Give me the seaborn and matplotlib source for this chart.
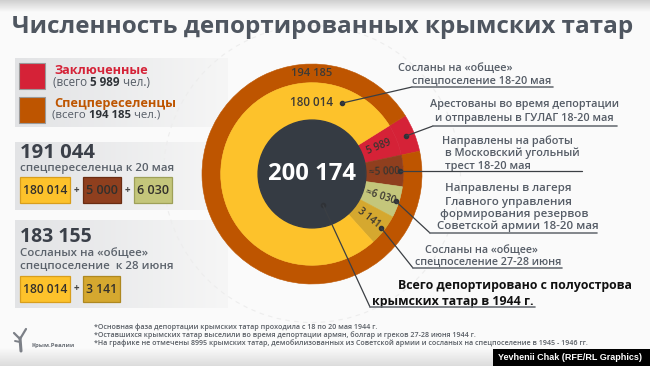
import numpy as np
import matplotlib
matplotlib.use("Agg")
import matplotlib.pyplot as plt
import seaborn as sns
from matplotlib.patches import Rectangle, Circle
from matplotlib.colors import to_rgb
from matplotlib import font_manager as fm

# ---------------- data ----------------
title_text = "Численность депортированных крымских татар"
total_label = "200 174"
ring_categories = ["Заключенные", "Спецпереселенцы"]
ring_values = [5989, 194185]
ring_label = "194 185"
segment_categories = ["ГУЛАГ", "Московский угольный трест", "Лагеря ГУФРСА",
                      "Спецпоселение 27-28 июня", "Спецпоселение 18-20 мая"]
segment_values = [5989, 5000, 6030, 3141, 180014]
segment_labels = ["5 989", "≈5 000", "≈6 030", "3 141", "180 014"]
legend_names = ["Заключенные", "Спецпереселенцы"]
legend_totals = ["5 989", "194 185"]
panel2_total = "191 044"
panel2_caption = ["спецпереселенца к 20 мая"]
panel2_terms = ["180 014", "5 000", "6 030"]
panel3_total = "183 155"
panel3_caption = ["Сосланых на «общее»", "спецпоселение  к 28 июня"]
panel3_terms = ["180 014", "3 141"]
callout_texts = [
    ["Сосланы на «общее»", "спецпоселение 18-20 мая"],
    ["Арестованы во время депортации", "и отправлены в ГУЛАГ 18-20 мая"],
    ["Направлены на работы", "в Московский угольный", "трест 18-20 мая"],
    ["Направлены в лагеря", "Главного управления", "формирования резервов",
     "Советской армии 18-20 мая"],
    ["Сосланы на «общее»", "спецпоселение 27-28 июня"],
    ["Всего депортировано с полуострова", "крымских татар в 1944 г."],
]
footnotes = [
    "*Основная фаза депортации крымских татар проходила с 18 по 20 мая 1944 г.",
    "*Оставшихся крымских татар выселили во время депортации армян, болгар и греков 27-28 июня 1944 г.",
    "*На графике не отмечены 8995 крымских татар, демобилизованных из Советской армии и сосланых на спецпоселение в 1945 - 1946 гг.",
]
logo_text = "Крым.Реалии"
credit_text = "Yevhenii Chak (RFE/RL Graphics)"

# ---------------- style ----------------
sns.set_style("white")
FONT = "Open Sans"
plt.rcParams["font.family"] = [FONT, "DejaVu Sans"]
_names = {f.name for f in fm.fontManager.ttflist}
NARROW = "Liberation Sans Narrow" if "Liberation Sans Narrow" in _names else FONT

RED, ORANGE = "#D52237", "#BE5500"
seg_colors = sns.color_palette([RED, "#8F3F1E", "#C4C67B", "#D5A82F", "#FDC22B"])
ring_colors = [RED, ORANGE]
DARK = "#353B43"
GRAY_TXT = "#555C66"

W, H = 650, 366
fig = plt.figure(figsize=(6.5, 3.66), dpi=100)
fig.patch.set_facecolor("#FAFAFA")
renderer = fig.canvas.get_renderer()

ax_bg = fig.add_axes([0, 0, 1, 1], zorder=0)
CX, CY, R = 312, 174, 110
HALF = 120
ax_d = fig.add_axes([(CX - HALF) / W, 1 - (CY + HALF) / H, 2 * HALF / W, 2 * HALF / H], zorder=1)
ax_o = fig.add_axes([0, 0, 1, 1], zorder=2)
ax_o.patch.set_alpha(0)
for a in (ax_bg, ax_o):
    a.set_xlim(0, W)
    a.set_ylim(H, 0)
    a.axis("off")


def grad(ax, x0, x1, y0, y1, c0, c1, vertical=False, z=1):
    t = np.linspace(0, 1, 256)
    a, b = np.array(to_rgb(c0)), np.array(to_rgb(c1))
    cols = a[None, :] * (1 - t[:, None]) + b[None, :] * t[:, None]
    img = cols[:, None, :] if vertical else cols[None, :, :]
    ax.imshow(img, extent=(x0, x1, y1, y0), aspect="auto", interpolation="bilinear", zorder=z)


def fit(t, width, cap=None):
    w = t.get_window_extent(renderer).width
    fs = t.get_fontsize() * width / w
    if cap is not None:
        fs = min(fs, cap)
    t.set_fontsize(fs)
    return fs


def width_of(t):
    return t.get_window_extent(renderer).width


# background decorations
grad(ax_bg, 0, W, 0, 12, "#CFCFCF", "#FAFAFA", vertical=True)
grad(ax_bg, 0, W, 348, H, "#FAFAFA", "#DCDCDC", vertical=True)
grad(ax_bg, 15, 228, 58, 127, "#E2E3E5", "#F6F6F6")
grad(ax_bg, 15, 228, 142, 210, "#E2E3E5", "#F6F6F6")
grad(ax_bg, 15, 228, 220, 308, "#E2E3E5", "#F6F6F6")
ax_bg.add_patch(Circle((CX, CY), R * 1.35, fill=False, ec="#EDEDED", lw=0.8, ls=(0, (4, 4)), zorder=2))
ax_bg.set_xlim(0, W)
ax_bg.set_ylim(H, 0)

# ---------------- donut ----------------
MIN_SHARE = 20 / 360  # small slices are enlarged for readability, as in the original


def display_shares(vals):
    s = np.asarray(vals, float) / np.sum(vals)
    small = s < MIN_SHARE
    d = np.where(small, MIN_SHARE, s)
    d[~small] *= (1 - d[small].sum()) / d[~small].sum()
    return d


START = 32
outer, _ = ax_d.pie(display_shares(ring_values), radius=1.0, colors=ring_colors,
                    startangle=START, counterclock=False,
                    wedgeprops=dict(width=0.17, linewidth=0.4))
inner, _ = ax_d.pie(display_shares(segment_values), radius=0.83, colors=seg_colors,
                    startangle=START, counterclock=False,
                    wedgeprops=dict(width=0.34, linewidth=0.4))
for w in list(outer) + list(inner):
    w.set_edgecolor(w.get_facecolor())
ax_d.add_patch(Circle((0, 0), 0.49, color=DARK, zorder=5))
ax_d.set_xlim(-HALF / R, HALF / R)
ax_d.set_ylim(-HALF / R, HALF / R)
ax_d.axis("off")

t = ax_d.text(0, 0, total_label, color="white", fontweight="bold", ha="center",
              va="center", fontsize=18, zorder=6)
fit(t, 88)


def to_px(r, ang):
    return CX + R * r * np.cos(np.radians(ang)), CY - R * r * np.sin(np.radians(ang))


mids = [(w.theta1 + w.theta2) / 2 for w in inner]
for i in range(4):
    x, y = to_px(0.655, mids[i])
    ax_o.text(x, y, segment_labels[i], rotation=mids[i], rotation_mode="anchor",
              ha="center", va="center", color="#3A3530", fontsize=7.2,
              fontweight="semibold", zorder=7)

tt = ax_o.text(CX, 74, ring_label, ha="center", va="center", color="#3D3A36",
               fontweight="semibold", fontsize=7.5)
fit(tt, 41)
tt = ax_o.text(333, 103, segment_labels[4], ha="right", va="center", color="#3D3A36",
               fontweight="semibold", fontsize=7.5)
fit(tt, 43)

# callouts: dot -> elbow -> underline end
dots = [to_px(0.70, 67), to_px(0.925, mids[0]), to_px(0.80, mids[1]),
        to_px(0.80, mids[2]), to_px(0.80, mids[3]), to_px(0.30, -70.5)]
elbows = [(412, 87), (433, 126), None, (430, 233), (413, 268), (370, 307)]
ends = [553, 617, 582, 597, 562, 535]
for i, (d, e, xe) in enumerate(zip(dots, elbows, ends)):
    ax_o.plot(*d, "o", ms=3, color="#2F3237", zorder=8)
    if e is None:
        ax_o.plot([d[0], xe], [d[1], d[1]], color="#3B3F44", lw=0.9, zorder=8)
    else:
        ax_o.plot([d[0], e[0]], [d[1], e[1]], color="#3B3F44", lw=0.9, zorder=8)
        ax_o.plot([e[0], xe], [e[1], e[1]], color="#6D7278", lw=1.2, zorder=8)

line_pos = [
    [(398, 68), (412, 81)],
    [(430, 105), (435, 118)],
    [(442, 141), (445, 153), (445, 166)],
    [(445, 189), (445, 202), (440, 214), (437, 226)],
    [(425, 250), (415, 262)],
    [(398, 286), (372, 301)],
]
fit_line = [(1, 140), (0, 190), (1, 135), (3, 160), (1, 147), (0, 235)]
for b, lines in enumerate(callout_texts):
    last = b == 5
    color = "#111111" if last else GRAY_TXT
    weight = "bold" if last else "semibold"
    texts = [ax_o.text(x, y, s, ha="left", va="center", color=color,
                       fontweight=weight, fontsize=8.5)
             for s, (x, y) in zip(lines, line_pos[b])]
    li, wid = fit_line[b]
    fs = fit(texts[li], wid)
    for tx in texts:
        tx.set_fontsize(fs)

# ---------------- title ----------------
tt = ax_o.text(12, 33, title_text, ha="left", va="baseline", color="#4F5660",
               fontweight="bold", fontsize=16)
fit(tt, 624)

# ---------------- left panels ----------------
for (y0, c) in [(63, ring_colors[0]), (97, ring_colors[1])]:
    ax_o.add_patch(Rectangle((19, y0), 26, 26, fc=c, ec="#9A9A9A", lw=0.8))

tt = ax_o.text(54, 70, legend_names[0], color=RED, fontweight="bold", va="center", fontsize=9)
fit(tt, 94)
tt = ax_o.text(54, 103, legend_names[1], color=ORANGE, fontweight="bold", va="center", fontsize=9)
fit(tt, 122)


def rich(x, y, parts, target):
    # measure at a base size, then scale to the target width
    base = 8.0
    probe = [ax_o.text(0, 0, s, fontsize=base, fontweight=wgt) for s, wgt, _ in parts]
    total = sum(width_of(p) for p in probe)
    for p in probe:
        p.remove()
    fs = base * target / total
    for s, wgt, col in parts:
        tx = ax_o.text(x, y, s, ha="left", va="center", fontsize=fs, fontweight=wgt, color=col)
        x += width_of(tx)


rich(53, 83, [("(всего ", "normal", GRAY_TXT), (legend_totals[0], "bold", "#2E3237"),
              (" чел.)", "normal", GRAY_TXT)], 97)
rich(52, 115, [("(всего ", "normal", GRAY_TXT), (legend_totals[1], "bold", "#2E3237"),
               (" чел.)", "normal", GRAY_TXT)], 108)

NUMC = "#3B4049"
tt = ax_o.text(20, 153, panel2_total, color=NUMC, fontweight="bold", va="center", fontsize=14)
fit(tt, 75)
tt = ax_o.text(20, 169, panel2_caption[0], color="#5B626B", fontweight="semibold", va="center", fontsize=8)
fit(tt, 153)
tt = ax_o.text(20, 237, panel3_total, color=NUMC, fontweight="bold", va="center", fontsize=14)
fit(tt, 72)
tt1 = ax_o.text(20, 253, panel3_caption[0], color="#5B626B", fontweight="semibold", va="center", fontsize=8)
tt2 = ax_o.text(20, 266, panel3_caption[1], color="#5B626B", fontweight="semibold", va="center", fontsize=8)
fs = fit(tt2, 152)
tt1.set_fontsize(fs)

box_style = {
    "180 014": ("#FDC22B", "#D89E1C"),
    "5 000": ("#8F3F1E", "#6A2C12"),
    "6 030": ("#C4C67B", "#9EA058"),
    "3 141": ("#D5A82F", "#AE8820"),
}


def box_row(y0, terms, xs):
    for s, (x0, x1) in zip(terms, xs):
        fc, ec = box_style[s]
        ax_o.add_patch(Rectangle((x0, y0), x1 - x0, 26, fc=fc, ec=ec, lw=0.9))
        tx = ax_o.text((x0 + x1) / 2, y0 + 13.5, s, ha="center", va="center",
                       color="#33302C", fontweight="semibold", fontsize=8.5)
        fit(tx, (x1 - x0) - 6)
    for (a0, a1), (b0, b1) in zip(xs[:-1], xs[1:]):
        ax_o.text((a1 + b0) / 2, y0 + 13, "+", ha="center", va="center",
                  color="#444", fontweight="bold", fontsize=7)


box_row(177, panel2_terms, [(20, 70), (83, 121), (134, 172)])
box_row(276, panel3_terms, [(20, 70), (83, 120)])

# ---------------- footer ----------------
for i, (s, wid) in enumerate(zip(footnotes, [308, 414, 537])):
    tt = ax_o.text(94, 327 + 8.0 * i, s, ha="left", va="center", color="#5A5F66",
                   fontsize=5, fontweight="bold" if NARROW != FONT else "semibold",
                   family=[NARROW, "DejaVu Sans"])
    fit(tt, wid, cap=5.1)
# simple logo mark
ax_o.plot([20, 21], [338, 351], color="#7C8087", lw=2.2, solid_capstyle="round")
ax_o.plot([14, 20, 26], [333, 339, 329], color="#7C8087", lw=1.6, solid_capstyle="round")
ax_o.plot([15, 20], [341, 342], color="#7C8087", lw=1.4, solid_capstyle="round")
tt = ax_o.text(32, 345, logo_text, ha="left", va="center", color="#6B7077",
               fontweight="bold", fontsize=5)
fit(tt, 43, cap=5.0)

ax_o.add_patch(Rectangle((493, 349), W - 493, H - 349, fc="black", ec="none", zorder=9))
tt = ax_o.text(569.5, 358, credit_text, ha="center", va="center", color="white",
               fontweight="bold", fontsize=7.5, family=["Liberation Sans", "DejaVu Sans"], zorder=10)
fit(tt, 143)

fig.savefig("out.png", dpi=100, facecolor=fig.get_facecolor())
